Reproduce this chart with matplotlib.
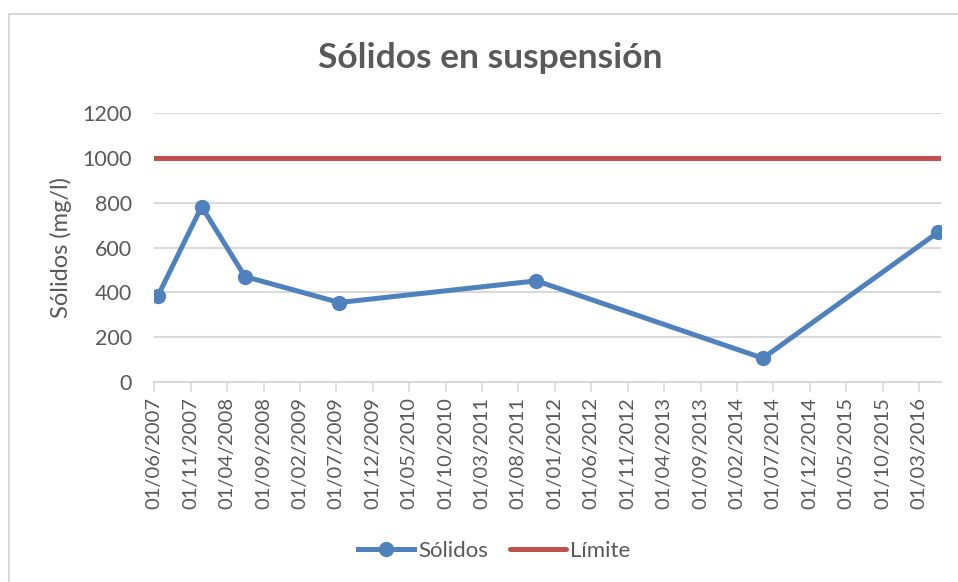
import matplotlib
matplotlib.use("Agg")
import matplotlib.pyplot as plt
import matplotlib.dates as mdates
from matplotlib.patches import Rectangle
import pandas as pd

plt.rcParams['font.family'] = ['Lato', 'DejaVu Sans']

fechas = ["2007-06-18", "2007-12-17", "2008-06-15", "2009-07-14",
          "2011-10-16", "2014-05-19", "2016-05-21"]
solidos = [385, 783, 470, 354, 451, 105, 669]
limite = 1000
x_inicio = "2007-06-01"
x_fin = "2016-06-01"
y_ticks = [0, 200, 400, 600, 800, 1000, 1200]

fechas_dt = pd.to_datetime(fechas)
x0 = pd.Timestamp(x_inicio)
x1 = pd.Timestamp(x_fin)
tick_dates = pd.date_range(x0, "2016-03-01", freq="5MS")

gray_text = "#595959"
grid_c = "#D9D9D9"
blue = "#4F81BD"
red = "#C0504D"

fig = plt.figure(figsize=(9.58, 5.82), dpi=100)
ax = fig.add_axes([154/958, 1-381.7/582, (941-154)/958, (381.7-113.3)/582])

ax.plot([x0, x1], [limite, limite], color=red, lw=3.6, solid_capstyle='round',
        label="Límite", zorder=3)
ax.plot(fechas_dt, solidos, color=blue, lw=3.6, marker='o', markersize=10,
        label="Sólidos", zorder=4, solid_joinstyle='round')

ax.set_xlim(x0, x1)
ax.set_ylim(0, 1200)
ax.set_yticks(y_ticks)
ax.yaxis.grid(True, color=grid_c, lw=1.5)
ax.set_axisbelow(True)
ax.set_xticks(tick_dates)
ax.xaxis.set_major_formatter(mdates.DateFormatter("%d/%m/%Y"))
for s in ["top", "right", "left"]:
    ax.spines[s].set_visible(False)
ax.spines["bottom"].set_color(grid_c)
ax.spines["bottom"].set_linewidth(1.5)
ax.tick_params(axis='y', length=0, pad=16, labelsize=15.5, labelcolor=gray_text)
ax.tick_params(axis='x', direction='out', length=7, width=1.2, color=grid_c,
               labelsize=14.5, labelcolor=gray_text, labelrotation=90, pad=4)
ax.set_ylabel("Sólidos (mg/l)", fontsize=17, color=gray_text)
ax.yaxis.set_label_coords((72-154)/787, 0.5)

fig.text(0.512, 1-58/582, "Sólidos en suspensión", ha='center', va='center',
         fontsize=25.5, fontweight='bold', color=gray_text)

handles, labels = ax.get_legend_handles_labels()
leg = fig.legend(handles[::-1], labels[::-1], loc='center', ncol=2,
                 bbox_to_anchor=(0.516, 1-551/582), frameon=False,
                 fontsize=16, handlelength=2.5, columnspacing=1.0,
                 handletextpad=0.2)
for t in leg.get_texts():
    t.set_color(gray_text)

fig.patches.append(Rectangle((9/958, -0.1), 1.2, 1-14/582+0.1, fill=False,
                             edgecolor=grid_c, lw=1.5, transform=fig.transFigure))

fig.savefig("out.png", dpi=100)
